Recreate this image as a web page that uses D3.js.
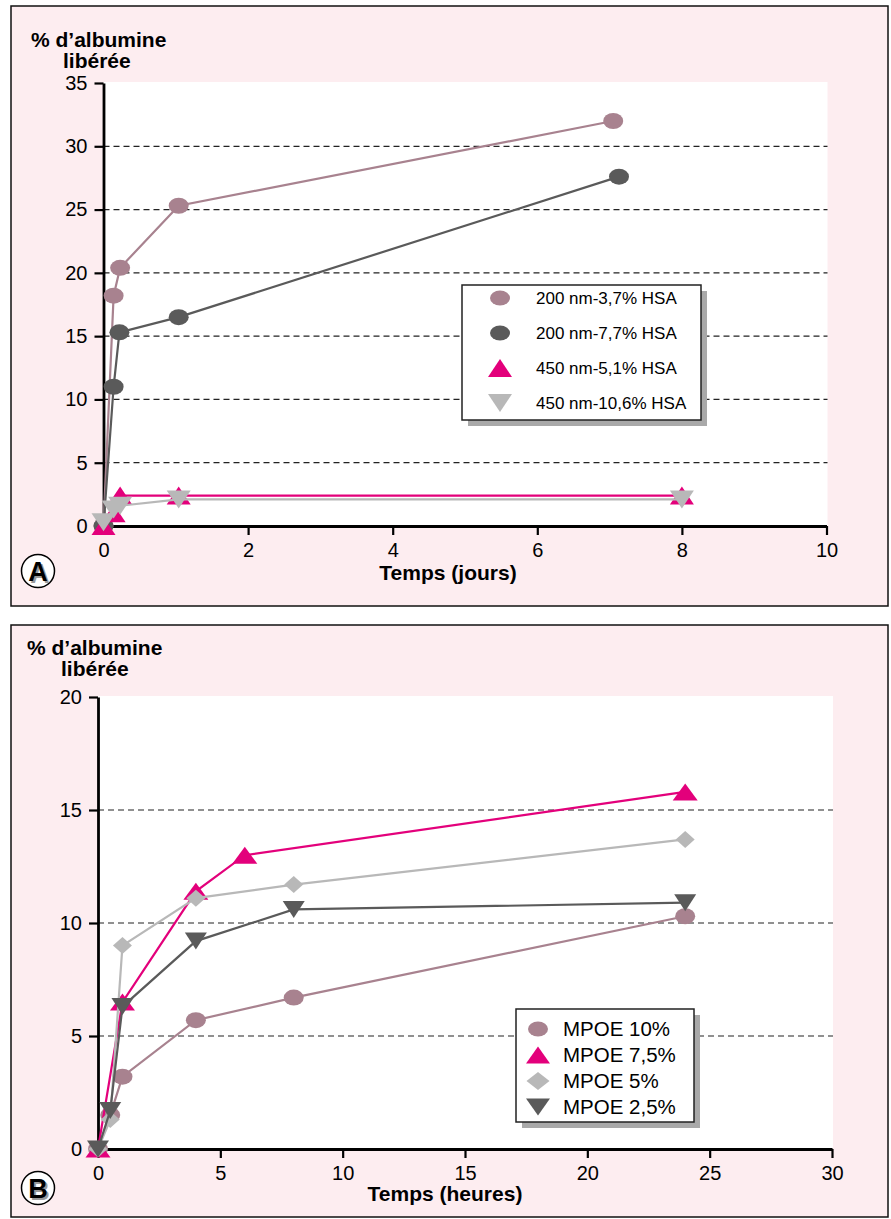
<!DOCTYPE html>
<html>
<head>
<meta charset="utf-8">
<script src="https://cdn.jsdelivr.net/npm/d3@7"></script>
<style>
  body { margin: 0; background: #fff; }
  text { font-family: "Liberation Sans", Arial, Helvetica, sans-serif; }
</style>
</head>
<body>
<div id="chart"></div>
<script>
// ---- Panel A data (time in days, % albumin released) ----
var ticksJours = [0, 2, 4, 6, 8, 10];
var ticksYA = [0, 5, 10, 15, 20, 25, 30, 35];
var labelsA = ["200 nm-3,7% HSA", "200 nm-7,7% HSA", "450 nm-5,1% HSA", "450 nm-10,6% HSA"];
var a37x = [0, 0.14, 0.23, 1.04, 7.05];
var a37y = [0, 18.2, 20.4, 25.3, 32.0];
var a77x = [0, 0.14, 0.22, 1.04, 7.13];
var a77y = [0, 11.0, 15.3, 16.5, 27.6];
var a51x = [0, 0.14, 0.23, 1.04, 8];
var a51y = [0, 1.0, 2.4, 2.4, 2.4];
var a106x = [0, 0.14, 0.23, 1.04, 8];
var a106y = [0.3, 1.3, 1.6, 2.1, 2.1];

// ---- Panel B data (time in hours) ----
var ticksHeures = [0, 5, 10, 15, 20, 25, 30];
var ticksYB = [0, 5, 10, 15, 20];
var labelsB = ["MPOE 10%", "MPOE 7,5%", "MPOE 5%", "MPOE 2,5%"];
var b10x = [0, 0.5, 1, 4, 8, 24];
var b10y = [0, 1.5, 3.2, 5.7, 6.7, 10.3];
var b75x = [0, 1, 4, 6, 24];
var b75y = [0, 6.5, 11.4, 13.0, 15.8];
var b5x = [0, 0.5, 1, 4, 8, 24];
var b5y = [0, 1.3, 9.0, 11.1, 11.7, 13.7];
var b25x = [0, 0.5, 1, 4, 8, 24];
var b25y = [0, 1.7, 6.3, 9.2, 10.6, 10.9];

var mauve = "#a8828f", dark = "#5a5a5a", pink = "#e3007b", light = "#b8b8b8";

var svg = d3.select("#chart").append("svg")
  .attr("width", 891).attr("height", 1219);

// marker shapes, centred on the point
function shape(type, w, h) {
  var a = w / 2, b = h / 2;
  if (type === "circle")
    return "M" + (-a) + ",0A" + a + "," + b + " 0 1,0 " + a + ",0A" + a + "," + b + " 0 1,0 " + (-a) + ",0Z";
  if (type === "up") return "M0," + (-b) + "L" + a + "," + b + "L" + (-a) + "," + b + "Z";
  if (type === "down") return "M" + (-a) + "," + (-b) + "L" + a + "," + (-b) + "L0," + b + "Z";
  return "M0," + (-b) + "L" + a + ",0L0," + b + "L" + (-a) + ",0Z";
}

function drawPanel(p) {
  var g = svg.append("g");
  g.append("rect")
    .attr("x", p.frame[0]).attr("y", p.frame[1])
    .attr("width", p.frame[2]).attr("height", p.frame[3])
    .attr("fill", "#fdedf0").attr("stroke", "#111").attr("stroke-width", 1.5);

  var x = d3.scaleLinear().domain(p.xDomain).range([p.left, p.right]);
  var y = d3.scaleLinear().domain(p.yDomain).range([p.bottom, p.top]);

  g.append("rect")
    .attr("x", p.left).attr("y", p.top - 1)
    .attr("width", p.right - p.left + 1).attr("height", p.bottom - p.top + 1)
    .attr("fill", "#fff");

  // dashed grid lines
  g.selectAll(".grid")
    .data(p.yTicks.filter(function (t) { return t > p.yDomain[0] && t < p.yDomain[1]; }))
    .enter().append("line")
    .attr("x1", p.left).attr("x2", p.right + 1)
    .attr("y1", function (d) { return y(d); })
    .attr("y2", function (d) { return y(d); })
    .attr("stroke", "#222").attr("stroke-width", 1.2)
    .attr("stroke-dasharray", "6,4");

  // axes
  var ya = g.append("g")
    .attr("transform", "translate(" + p.left + ",0)")
    .call(d3.axisLeft(y).tickValues(p.yTicks).tickSize(9).tickSizeOuter(0).tickPadding(7));
  var xa = g.append("g")
    .attr("transform", "translate(0," + p.bottom + ")")
    .call(d3.axisBottom(x).tickValues(p.xTicks).tickSize(9).tickSizeOuter(0).tickPadding(8));
  [ya, xa].forEach(function (ax) {
    ax.select(".domain").attr("stroke", "#000").attr("stroke-width", 2.8);
    ax.selectAll(".tick line").attr("stroke", "#000").attr("stroke-width", 2.2);
    ax.selectAll(".tick text")
      .attr("fill", "#000")
      .style("font-size", "20px")
      .style("font-family", '"Liberation Sans", Arial, sans-serif');
  });

  // series lines then markers
  p.series.forEach(function (s) {
    var pts = s.x.map(function (v, i) { return [v, s.y[i]]; });
    g.append("path")
      .datum(pts)
      .attr("fill", "none")
      .attr("stroke", s.color)
      .attr("stroke-width", 2.2)
      .attr("d", d3.line().x(function (d) { return x(d[0]); }).y(function (d) { return y(d[1]); }));
    g.selectAll(null).data(pts).enter().append("path")
      .attr("transform", function (d) { return "translate(" + x(d[0]) + "," + y(d[1]) + ")"; })
      .attr("d", shape(s.type, s.w, s.h))
      .attr("fill", s.color);
  });

  // legend with drop shadow
  var L = p.legend;
  g.append("rect")
    .attr("x", L.x + 6).attr("y", L.y + 6).attr("width", L.w).attr("height", L.h)
    .attr("fill", "#a9a9a9");
  g.append("rect")
    .attr("x", L.x).attr("y", L.y).attr("width", L.w).attr("height", L.h)
    .attr("fill", "#fff").attr("stroke", "#222").attr("stroke-width", 1.5);
  p.series.forEach(function (s, i) {
    var cy = L.y + L.first + i * L.step;
    g.append("path")
      .attr("transform", "translate(" + (L.x + L.mx) + "," + cy + ")")
      .attr("d", shape(s.type, L.sw[i], L.sh[i]))
      .attr("fill", s.color);
    g.append("text")
      .attr("x", L.x + L.tx).attr("y", cy).attr("dy", "0.36em")
      .style("font-size", L.font + "px")
      .text(p.labels[i]);
  });

  // axis titles
  var yt = g.append("text").style("font-size", "21px").style("font-weight", "bold");
  yt.append("tspan").attr("x", p.yTitle[0]).attr("y", p.yTitle[1]).text("% d’albumine");
  yt.append("tspan").attr("x", p.yTitle[2]).attr("y", p.yTitle[1] + 21).text("libérée");
  g.append("text")
    .attr("x", p.xTitle[0]).attr("y", p.xTitle[1])
    .attr("text-anchor", "middle")
    .style("font-size", "21px").style("font-weight", "bold")
    .text(p.xLabel);

  // panel letter in a circle
  g.append("circle")
    .attr("cx", p.badge[0]).attr("cy", p.badge[1]).attr("r", 16.5)
    .attr("fill", "#fff").attr("stroke", "#000").attr("stroke-width", 1.5);
  g.append("text")
    .attr("x", p.badge[0] + 2).attr("y", p.badge[1] + 2).attr("dy", "0.36em")
    .attr("text-anchor", "middle").attr("fill", "#9a9a9a")
    .style("font-size", "27px").style("font-weight", "bold").text(p.badgeText);
  g.append("text")
    .attr("x", p.badge[0]).attr("y", p.badge[1]).attr("dy", "0.36em")
    .attr("text-anchor", "middle").attr("fill", "#000")
    .style("font-size", "27px").style("font-weight", "bold").text(p.badgeText);
}

drawPanel({
  frame: [11, 6, 877, 600],
  left: 103.5, right: 826.5, top: 83, bottom: 526,
  xDomain: [0, 10], yDomain: [0, 35],
  xTicks: ticksJours, yTicks: ticksYA,
  labels: labelsA,
  series: [
    { x: a37x, y: a37y, color: mauve, type: "circle", w: 20, h: 16 },
    { x: a77x, y: a77y, color: dark, type: "circle", w: 20, h: 16 },
    { x: a51x, y: a51y, color: pink, type: "up", w: 24, h: 18 },
    { x: a106x, y: a106y, color: light, type: "down", w: 24, h: 18 }
  ],
  legend: { x: 462, y: 285, w: 239, h: 135, first: 13, step: 35, mx: 38, tx: 74, font: 17,
            sw: [20, 20, 24, 24], sh: [15, 15, 18, 18] },
  yTitle: [31, 47, 63],
  xTitle: [448, 580], xLabel: "Temps (jours)",
  badge: [38, 571], badgeText: "A"
});

drawPanel({
  frame: [11, 625, 877, 592],
  left: 98, right: 832, top: 697, bottom: 1149,
  xDomain: [0, 30], yDomain: [0, 20],
  xTicks: ticksHeures, yTicks: ticksYB,
  labels: labelsB,
  series: [
    { x: b10x, y: b10y, color: mauve, type: "circle", w: 20, h: 16 },
    { x: b75x, y: b75y, color: pink, type: "up", w: 25, h: 17 },
    { x: b5x, y: b5y, color: light, type: "diamond", w: 19, h: 17 },
    { x: b25x, y: b25y, color: dark, type: "down", w: 22, h: 17 }
  ],
  legend: { x: 516, y: 1009, w: 178, h: 113, first: 20, step: 26, mx: 22, tx: 47, font: 20.5,
            sw: [20, 24, 23, 24], sh: [15, 17, 18, 17] },
  yTitle: [27, 655, 61],
  xTitle: [445, 1201], xLabel: "Temps (heures)",
  badge: [38, 1188], badgeText: "B"
});
</script>
</body>
</html>
